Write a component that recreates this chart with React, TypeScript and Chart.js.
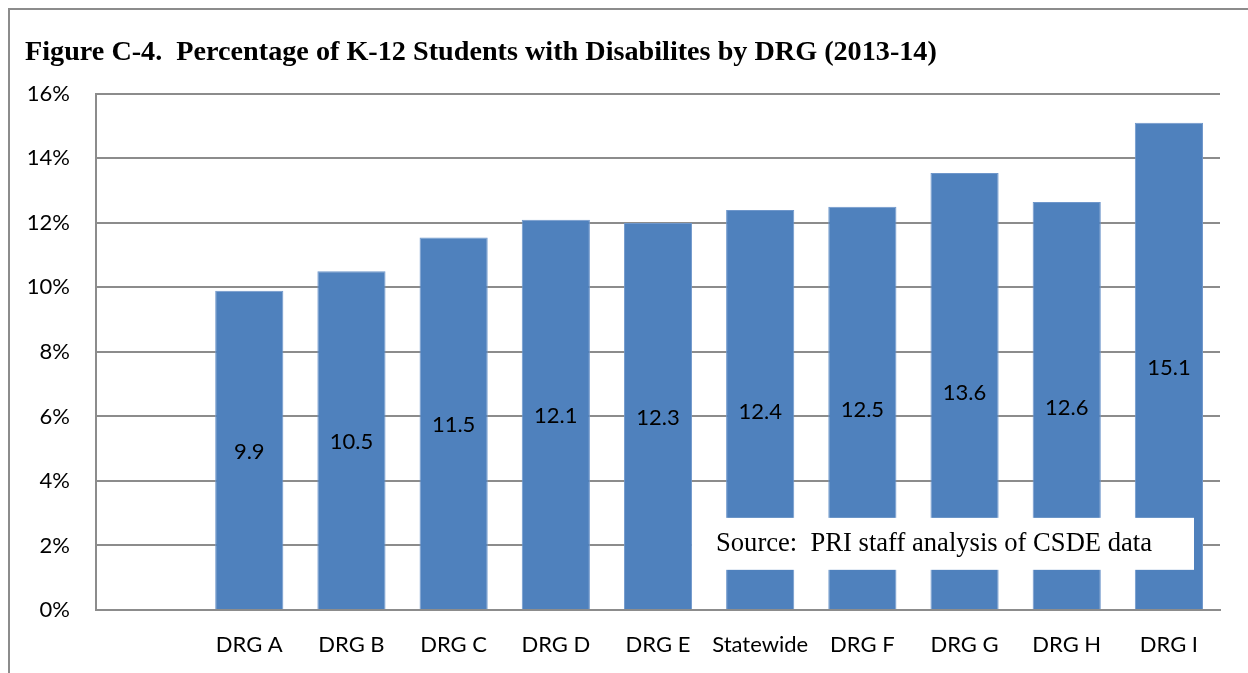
import React, { useEffect, useRef } from "react";
import { Chart, registerables } from "chart.js";

Chart.register(...registerables);

const categories: string[] = ["", "DRG A", "DRG B", "DRG C", "DRG D", "DRG E", "Statewide", "DRG F", "DRG G", "DRG H", "DRG I"];
const barValues: (number | null)[] = [null, 9.9, 10.5, 11.55, 12.1, 12.0, 12.4, 12.5, 13.55, 12.65, 15.1];
const valueLabels: string[] = ["", "9.9", "10.5", "11.5", "12.1", "12.3", "12.4", "12.5", "13.6", "12.6", "15.1"];
const yTicks: number[] = [0, 2, 4, 6, 8, 10, 12, 14, 16];
const titleText = "Figure C-4.  Percentage of K-12 Students with Disabilites by DRG (2013-14)";
const sourceText = "Source:  PRI staff analysis of CSDE data";

const SANS = "Lato, 'Open Sans', sans-serif";
const SERIF = "'Liberation Serif', 'DejaVu Serif', serif";
const GRID = "#8c8c8c";

const valueLabelPlugin = {
  id: "valueLabels",
  afterDatasetsDraw(chart: any) {
    const ctx = chart.ctx;
    const meta = chart.getDatasetMeta(0);
    ctx.save();
    ctx.font = `22px ${SANS}`;
    ctx.fillStyle = "#000";
    ctx.textAlign = "center";
    ctx.textBaseline = "middle";
    meta.data.forEach((bar: any, i: number) => {
      if (barValues[i] == null) return;
      const props = bar.getProps(["x", "y", "base"], true);
      ctx.fillText(valueLabels[i], props.x, (props.y + props.base) / 2 + 2);
    });
    ctx.restore();
  },
};

const sourceBoxPlugin = {
  id: "sourceBox",
  afterDatasetsDraw(chart: any) {
    const ctx = chart.ctx;
    const a = chart.chartArea;
    const left = a.left + 596;
    const top = a.top + 424;
    const w = 502;
    const h = 52;
    ctx.save();
    ctx.fillStyle = "#ffffff";
    ctx.fillRect(left, top, w, h);
    ctx.font = `26.6px ${SERIF}`;
    ctx.fillStyle = "#000";
    ctx.textAlign = "left";
    ctx.textBaseline = "middle";
    ctx.fillText(sourceText, left + 24, top + h / 2);
    ctx.restore();
  },
};

export default function App() {
  const ref = useRef<HTMLCanvasElement | null>(null);
  useEffect(() => {
    if (!ref.current) return;
    const chart = new Chart(ref.current, {
      type: "bar",
      data: {
        labels: categories,
        datasets: [
          {
            data: barValues,
            backgroundColor: "#4f81bd",
            borderColor: "#6f97cb",
            borderWidth: 1,
            categoryPercentage: 1,
            barPercentage: 0.667,
          },
        ],
      },
      options: {
        responsive: false,
        animation: false,
        layout: { padding: { left: 15, right: 28, top: 0, bottom: 15 } },
        plugins: {
          legend: { display: false },
          tooltip: { enabled: false },
          title: {
            display: true,
            text: titleText,
            align: "start",
            color: "#000",
            font: { family: SERIF, size: 28.2, weight: "bold", lineHeight: 1.2 },
            padding: { top: 26, bottom: 24 },
          },
        },
        scales: {
          x: {
            afterFit: (scale: any) => {
              scale.height = 48;
            },
            grid: { display: false, drawTicks: false },
            border: { display: true, color: GRID, width: 2 },
            ticks: { color: "#000", font: { family: SANS, size: 22 }, padding: 22, maxRotation: 0, autoSkip: false },
          },
          y: {
            min: 0,
            max: 16,
            afterBuildTicks: (scale: any) => {
              scale.ticks = yTicks.map((v) => ({ value: v }));
            },
            afterFit: (scale: any) => {
              scale.width = 71;
            },
            grid: { color: GRID, lineWidth: 2, drawTicks: false },
            border: { display: true, color: GRID, width: 2 },
            ticks: {
              color: "#000",
              font: { family: SANS, size: 22 },
              padding: 26,
              callback: (v: any) => `${v}%`,
            },
          },
        },
      },
      plugins: [valueLabelPlugin, sourceBoxPlugin],
    });
    return () => chart.destroy();
  }, []);

  return (
    <div
      style={{
        position: "fixed",
        left: 8,
        top: 8,
        width: 1240,
        height: 665,
        borderTop: "2px solid #8c8c8c",
        borderLeft: "2px solid #8c8c8c",
        boxSizing: "border-box",
        background: "#fff",
      }}
    >
      <canvas ref={ref} width={1238} height={663} style={{ display: "block" }} />
    </div>
  );
}
